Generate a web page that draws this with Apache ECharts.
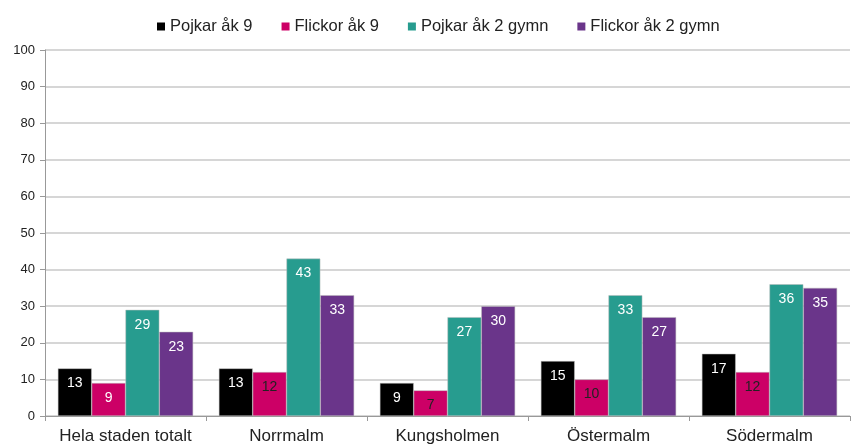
<!DOCTYPE html>
<html><head><meta charset="utf-8">
<script src="https://cdn.jsdelivr.net/npm/echarts@6/dist/echarts.min.js"></script>
<style>html,body{margin:0;padding:0;background:#fff}#c{width:852px;height:445px}</style>
</head><body><div id="c"></div>
<script>
const categories = ['Hela staden totalt', 'Norrmalm', 'Kungsholmen', 'Östermalm', 'Södermalm'];
const seriesNames = ['Pojkar åk 9', 'Flickor åk 9', 'Pojkar åk 2 gymn', 'Flickor åk 2 gymn'];
const pojkar9 = [13, 13, 9, 15, 17];
const flickor9 = [9, 12, 7, 10, 12];
const pojkar2 = [29, 43, 27, 33, 36];
const flickor2 = [23, 33, 30, 27, 35];
const yTicks = [0, 10, 20, 30, 40, 50, 60, 70, 80, 90, 100];
const colors = ['#000000', '#CC0066', '#279C8F', '#6A358A'];
const labelColors = [
  ['#fff','#fff','#fff','#fff','#fff'],
  ['#fff','#222','#222','#222','#222'],
  ['#fff','#fff','#fff','#fff','#fff'],
  ['#fff','#fff','#fff','#fff','#fff']
];
const allData = [pojkar9, flickor9, pojkar2, flickor2];
const chart = echarts.init(document.getElementById('c'));
chart.setOption({
  animation: false,
  textStyle: { fontFamily: 'Liberation Sans, Arial, sans-serif' },
  legend: {
    top: 13, left: 152, itemWidth: 8, itemHeight: 8, itemGap: 29,
    icon: 'rect',
    itemStyle: { borderWidth: 0 },
    textStyle: { fontSize: 16.5, color: '#222' },
    data: seriesNames
  },
  grid: { left: 45, right: 2, top: 50, bottom: 28, containLabel: false },
  xAxis: {
    type: 'category', data: categories,
    axisLine: { lineStyle: { color: '#999' } },
    axisTick: { show: true, interval: 0, length: 5, alignWithLabel: false, lineStyle: { color: '#999' } },
    axisLabel: { interval: 0, fontSize: 17, color: '#222', margin: 12 }
  },
  yAxis: {
    type: 'value', min: yTicks[0], max: yTicks[yTicks.length - 1], interval: 10,
    axisLine: { show: true, lineStyle: { color: '#999' } },
    axisTick: { show: true, length: 5, lineStyle: { color: '#999' } },
    axisLabel: { fontSize: 13, color: '#222', margin: 10 },
    splitLine: { lineStyle: { color: '#c8c8c8', width: 1.5 } }
  },
  series: allData.map((d, i) => ({
    name: seriesNames[i], type: 'bar', barGap: '0%', barCategoryGap: '16%',
    itemStyle: { color: colors[i], borderColor: '#bbb', borderWidth: 0.5 },
    data: d.map((v, j) => ({ value: v, label: { color: labelColors[i][j] } })),
    label: { show: true, position: 'insideTop', distance: 8, fontSize: 14 }
  }))
});
</script></body></html>
